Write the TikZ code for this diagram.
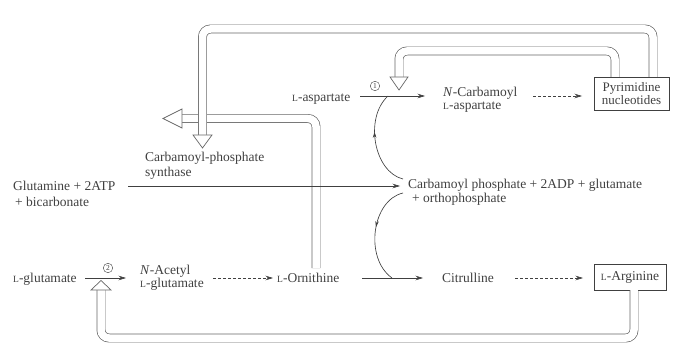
\documentclass[tikz,border=0pt]{standalone}
\usepackage{fontspec}
\setmainfont{Liberation Serif}
\usetikzlibrary{arrows.meta,decorations.markings}
\definecolor{ink}{rgb}{0.25,0.25,0.25}
\definecolor{bandc}{rgb}{0.40,0.40,0.40}
\newcommand\lsc{{\fontsize{9.5}{10}\selectfont L}}
\begin{document}
\begin{tikzpicture}[x=1pt,y=-1pt, font=\fontsize{13.5}{14}\selectfont,
  txt/.style={inner sep=0pt, text=ink, anchor=base west},
  arr/.style={draw=ink, line width=0.65pt, -{Stealth[length=7.5pt,width=4.5pt]}},
  dasharr/.style={arr, dash pattern=on 3pt off 2pt},
  curv/.style={draw=ink, line width=0.65pt, postaction={decorate},
    decoration={markings, mark=at position #1 with {\arrow[ink]{Stealth[length=6pt,width=3.5pt]}}}},
  band/.style={draw=bandc, line width=0.7pt, double=white, double distance=7.5pt, rounded corners=8pt},
  openhead/.style={draw=bandc, line width=0.7pt, fill=white, line join=miter},
  boxn/.style={draw=ink, line width=0.65pt, text=ink, inner sep=0pt, align=center},
  circ/.style={circle, draw=ink, line width=0.4pt, inner sep=0pt, minimum size=9.5pt, font=\fontsize{7.5}{7.5}\selectfont, text=ink}]
\useasboundingbox (0,0) rectangle (679,358);

% text nodes
\node[txt] (asp) at (292,101.5) {\lsc-aspartate};
\node[txt] (nc1) at (443,96.5) {\textit{N}-Carbamoyl};
\node[txt] (nc2) at (443,109.5) {\lsc-aspartate};
\node[boxn, minimum width=75pt, minimum height=33pt, font=\fontsize{13}{11}\selectfont] (pyr) at (631.5,93.5) {Pyrimidine\\nucleotides};
\node[txt] (cps1) at (145,161.5) {Carbamoyl-phosphate};
\node[txt] (cps2) at (145,176.5) {synthase};
\node[txt] (glut1) at (13,190.5) {Glutamine + 2ATP};
\node[txt] (glut2) at (15,206.5) {+ bicarbonate};
\node[txt] (cp1) at (408,188.5) {Carbamoyl phosphate + 2ADP + glutamate};
\node[txt] (cp2) at (412,202.5) {+ orthophosphate};
\node[txt] (lglu) at (13,282.5) {\lsc-glutamate};
\node[txt] (na1) at (140,274.5) {\textit{N}-Acetyl};
\node[txt] (na2) at (140,287.5) {\lsc-glutamate};
\node[txt] (orn) at (277,282.5) {\lsc-Ornithine};
\node[txt] (cit) at (442,282.5) {Citrulline};
\node[boxn, minimum width=72pt, minimum height=26pt] (arg) at (630,277) {\lsc-Arginine};
\node[circ] (e1) at (375,86) {1};
\node[circ] (e2) at (108,268) {2};

% coordinates
\coordinate (aspout) at (360,96);
\coordinate (ncin) at (425,96);
\coordinate (j1) at (388,96);
\coordinate (ncout) at (533,96);
\coordinate (pyrin) at (582,96);
\coordinate (glout) at (128,186);
\coordinate (cpin) at (400,186);
\coordinate (cpup) at (403,179);
\coordinate (cpdn) at (403,193);
\coordinate (lgout) at (85,278);
\coordinate (nain) at (126,278);
\coordinate (naout) at (213,278);
\coordinate (ornin) at (273,278);
\coordinate (ornout) at (362,278);
\coordinate (citin) at (423,278);
\coordinate (j2) at (392,278);
\coordinate (citout) at (515,278);
\coordinate (argin) at (583,278);

% feedback bands
\draw[band] (316,268) -- (316,118.5) -- (182,118.5);
\draw[openhead] (182,109) -- (182,128) -- (163,118.5) -- cycle;
\draw[band] (653,77) -- (653,29) -- (202.5,29) -- (202.5,135);
\draw[openhead] (193,135) -- (212,135) -- (202.5,148) -- cycle;
\draw[band] (615,77) -- (615,51) -- (399,51) -- (399,77);
\draw[openhead] (390,77) -- (408,77) -- (399,90) -- cycle;
\draw[band] (634,290) -- (634,338) -- (101,338) -- (101,290);
\draw[openhead] (91,290) -- (111,290) -- (101,280.5) -- cycle;

% reactions
\draw[arr] (aspout) -- (ncin);
\draw[dasharr] (ncout) -- (pyrin);
\draw[arr] (glout) -- (cpin);
\draw[curv=0.6] (cpup) .. controls (374,172) and (364,118) .. (j1);
\draw[curv=0.45] (cpdn) .. controls (372,200) and (364,258) .. (j2);
\draw[arr] (lgout) -- (nain);
\draw[dasharr] (naout) -- (ornin);
\draw[arr] (ornout) -- (citin);
\draw[dasharr] (citout) -- (argin);
\end{tikzpicture}
\end{document}
